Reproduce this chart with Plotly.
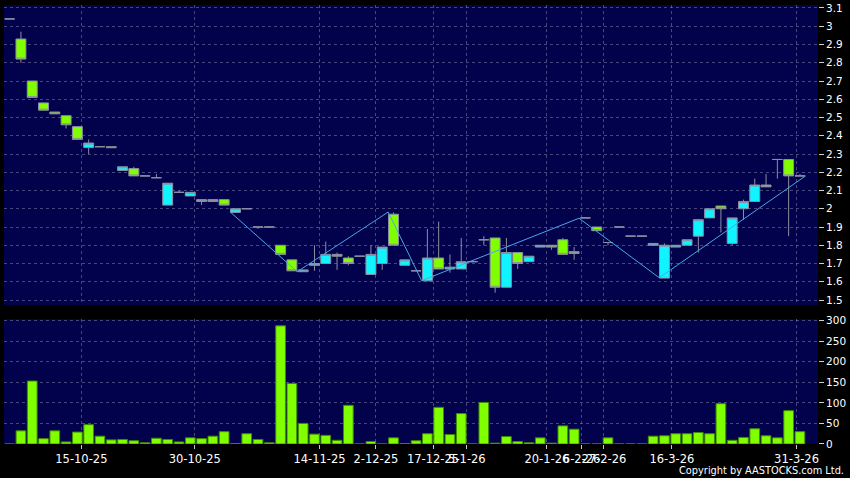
import plotly.graph_objects as go

# ---- data ----
slots = list(range(71))

opens = [3.04, 2.93, 2.70, 2.58, 2.53, 2.51, 2.45, 2.335, 2.34, 2.34,
         2.21, 2.22, 2.18, 2.17, 2.02, 2.09, 2.07, 2.04, 2.04, 2.05,
         1.98, 2.00, 1.90, 1.90, 1.80, 1.72, 1.655, 1.69, 1.70, 1.75,
         1.73, 1.74, 1.64, 1.70, 1.97, 1.69, 1.66, 1.605, 1.73, 1.67,
         1.67, 1.71, 1.83, 1.84, 1.57, 1.76, 1.71, 1.79, 1.80, 1.83,
         1.765, 1.95, 1.90, 1.815, 1.90, 1.85, 1.85, 1.80, 1.62, 1.79,
         1.80, 1.85, 1.95, 2.015, 1.81, 2.00, 2.04, 2.13, 2.27, 2.27,
         2.18]
highs = [3.04, 2.97, 2.70, 2.58, 2.53, 2.51, 2.45, 2.38, 2.34, 2.34,
         2.23, 2.23, 2.18, 2.19, 2.14, 2.10, 2.09, 2.05, 2.05, 2.05,
         2.00, 2.00, 1.90, 1.90, 1.80, 1.72, 1.665, 1.80, 1.82, 1.76,
         1.74, 1.74, 1.80, 1.79, 1.98, 1.72, 1.66, 1.89, 1.93, 1.75,
         1.84, 1.71, 1.85, 1.84, 1.84, 1.76, 1.74, 1.80, 1.80, 1.84,
         1.79, 1.95, 1.90, 1.815, 1.90, 1.85, 1.85, 1.81, 1.81, 1.80,
         1.83, 1.945, 2.00, 2.015, 1.95, 2.05, 2.165, 2.19, 2.27, 2.27,
         2.19]
lows = [3.04, 2.80, 2.61, 2.54, 2.52, 2.44, 2.38, 2.30, 2.34, 2.335,
        2.21, 2.18, 2.18, 2.17, 2.02, 2.09, 2.07, 2.02, 2.04, 2.02,
        1.98, 2.00, 1.89, 1.90, 1.75, 1.66, 1.655, 1.66, 1.70, 1.665,
        1.69, 1.74, 1.64, 1.665, 1.80, 1.69, 1.66, 1.605, 1.67, 1.65,
        1.67, 1.71, 1.80, 1.54, 1.57, 1.67, 1.71, 1.79, 1.775, 1.75,
        1.72, 1.95, 1.88, 1.80, 1.90, 1.85, 1.85, 1.80, 1.62, 1.79,
        1.80, 1.76, 1.95, 1.87, 1.80, 1.94, 2.04, 2.12, 2.165, 1.85,
        2.18]
closes = [3.04, 2.82, 2.61, 2.54, 2.52, 2.46, 2.38, 2.36, 2.34, 2.335,
          2.23, 2.18, 2.18, 2.17, 2.14, 2.09, 2.09, 2.05, 2.05, 2.02,
          2.00, 2.00, 1.90, 1.90, 1.75, 1.66, 1.665, 1.70, 1.75, 1.74,
          1.70, 1.74, 1.75, 1.79, 1.80, 1.72, 1.66, 1.73, 1.67, 1.68,
          1.71, 1.71, 1.83, 1.57, 1.76, 1.70, 1.74, 1.80, 1.79, 1.75,
          1.755, 1.95, 1.88, 1.815, 1.90, 1.85, 1.85, 1.81, 1.80, 1.80,
          1.83, 1.94, 2.00, 2.00, 1.95, 2.04, 2.13, 2.12, 2.27, 2.18,
          2.18]
volumes = [0, 32, 153, 13, 32, 5, 29, 47, 19, 10,
           11, 8, 3, 14, 11, 5, 15, 13, 19, 30,
           1, 25, 11, 3, 287, 147, 50, 24, 21, 9,
           94, 0, 6, 0, 15, 1, 8, 25, 89, 23,
           74, 0, 101, 2, 18, 6, 3, 15, 2, 44,
           36, 0, 0, 15, 0, 0, 0, 19, 20, 25,
           25, 28, 25, 98, 9, 16, 37, 20, 15, 81,
           30]

# zigzag line (slot position, price)
zz_x = [19.51, 25.47, 33.53, 36.49, 50.43, 57.54, 70.5]
zz_y = [1.984, 1.655, 1.982, 1.606, 1.948, 1.622, 2.18]

date_tick_pos = [6.35, 16.4, 27.45, 32.44, 37.5, 40.5, 47.58, 50.66, 52.64, 58.66, 69.7]
date_tick_labels = ["15-10-25", "30-10-25", "14-11-25", "2-12-25", "17-12-25",
                    "5-1-26", "20-1-26", "6-2-26", "27-2-26", "16-3-26", "31-3-26"]

price_ticks = [1.5, 1.6, 1.7, 1.8, 1.9, 2.0, 2.1, 2.2, 2.3, 2.4, 2.5,
               2.6, 2.7, 2.8, 2.9, 3.0, 3.1]
price_tick_labels = ["1.5", "1.6", "1.7", "1.8", "1.9", "2", "2.1", "2.2", "2.3",
                     "2.4", "2.5", "2.6", "2.7", "2.8", "2.9", "3", "3.1"]
vol_ticks = [0, 50, 100, 150, 200, 250, 300]

# ---- styling ----
BG = "#02024c"
GRID = "rgba(130,130,165,0.55)"
FONT = "DejaVu Sans"
WICK = "#8e8ea2"

fig = go.Figure()

fig.add_trace(go.Candlestick(
    x=slots, open=opens, high=highs, low=lows, close=closes,
    xaxis="x", yaxis="y",
    increasing=dict(fillcolor="#10f4ff", line=dict(color=WICK, width=1)),
    decreasing=dict(fillcolor="#80ff00", line=dict(color=WICK, width=1)),
    whiskerwidth=0, hoverinfo="skip", showlegend=False,
))

fig.add_trace(go.Scatter(
    x=zz_x, y=zz_y, mode="lines", xaxis="x", yaxis="y",
    line=dict(color="#4aa6ea", width=1), hoverinfo="skip", showlegend=False,
))

fig.add_trace(go.Bar(
    x=slots, y=volumes, xaxis="x2", yaxis="y2", width=0.86,
    marker=dict(color="#80ff00", line=dict(color="#3f8a00", width=1)),
    hoverinfo="skip", showlegend=False,
))

grid_common = dict(showgrid=True, gridcolor=GRID, gridwidth=1, griddash="3px,3px",
                   zeroline=False, showline=False)

fig.update_layout(
    width=850, height=478,
    margin=dict(l=4, r=32, t=5, b=34),
    paper_bgcolor="black", plot_bgcolor=BG,
    showlegend=False,
    boxgap=0.12, boxgroupgap=0,
    font=dict(family=FONT, color="white"),
    xaxis=dict(domain=[0, 1], anchor="y", range=[-0.5, 71.6],
               tickmode="array", tickvals=date_tick_pos, showticklabels=False,
               ticks="", rangeslider=dict(visible=False), **grid_common),
    xaxis2=dict(domain=[0, 1], anchor="y2", matches="x", range=[-0.5, 71.6],
                tickmode="array", tickvals=date_tick_pos, ticktext=date_tick_labels,
                tickangle=0, automargin=False,
                ticks="outside", ticklen=4, tickcolor="#c8c8c8", tickwidth=1,
                tickfont=dict(family=FONT, size=11.5, color="white"), **grid_common),
    yaxis=dict(domain=[0.3166, 1], anchor="x", side="right",
               range=[1.4726, 3.1164], tickmode="array",
               tickvals=price_ticks, ticktext=price_tick_labels, automargin=False,
               ticks="outside", ticklen=5, tickcolor="#d0d0d0", tickwidth=1,
               tickfont=dict(family=FONT, size=10.5, color="white"), **grid_common),
    yaxis2=dict(domain=[0, 0.2847], anchor="x2", side="right",
                range=[0, 303.6], tickmode="array", tickvals=vol_ticks, automargin=False,
                ticks="outside", ticklen=5, tickcolor="#d0d0d0", tickwidth=1,
                tickfont=dict(family=FONT, size=10.5, color="white"), **grid_common),
    annotations=[dict(text="Copyright by AASTOCKS.com Ltd.", xref="paper", yref="paper",
                      x=1.0344, y=-0.0615, xanchor="right", yanchor="middle",
                      showarrow=False, font=dict(family=FONT, size=9.8, color="white"))],
)

fig.write_html(
    "out.html",
    config={"displayModeBar": False},
    post_script="document.body.style.margin='0';document.body.style.overflow='hidden';",
)
